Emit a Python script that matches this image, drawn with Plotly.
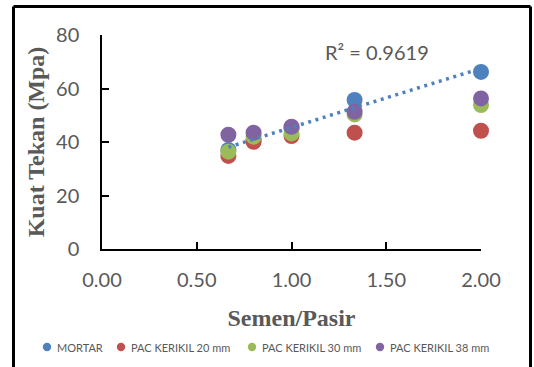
import numpy as np
import plotly.graph_objects as go

# ---- data ----
semen_pasir = [0.667, 0.8, 1.0, 1.333, 2.0]
mortar = [37.0, 41.0, 45.0, 55.7, 66.2]
kerikil_20 = [34.8, 40.1, 42.2, 43.5, 44.2]
kerikil_30 = [36.4, 42.0, 43.2, 50.3, 53.8]
kerikil_38 = [42.7, 43.5, 45.7, 51.3, 56.3]
series_names = ["MORTAR", "PAC KERIKIL 20 mm", "PAC KERIKIL 30 mm", "PAC KERIKIL 38 mm"]
series_colors = ["#4F81BD", "#C0504D", "#9BBB59", "#8064A2"]
r2_label = "R² = 0.9619"
x_ticks = [0.0, 0.5, 1.0, 1.5, 2.0]
y_ticks = [0, 20, 40, 60, 80]

TICK_FONT = dict(family="Lato", size=20, color="#595959")
TITLE_FONT = dict(family="Liberation Serif", size=24, color="#595959")

fig = go.Figure()
for name, vals, col in zip(series_names, [mortar, kerikil_20, kerikil_30, kerikil_38], series_colors):
    fig.add_trace(go.Scatter(
        x=semen_pasir, y=vals, mode="markers", name=name,
        marker=dict(size=16, color=col, line=dict(width=0)),
        cliponaxis=False, showlegend=False,
    ))

# linear trendline for MORTAR
slope, intercept = np.polyfit(semen_pasir, mortar, 1)
tx = [min(semen_pasir), max(semen_pasir)]
ty = [slope * v + intercept for v in tx]
fig.add_trace(go.Scatter(
    x=tx, y=ty, mode="lines", showlegend=False, hoverinfo="skip",
    line=dict(color="#4F81BD", width=3.5, dash="3px,4.6px"),
    cliponaxis=False,
))

fig.add_annotation(x=1.45, y=73.6, xref="x", yref="y", text=r2_label, showarrow=False,
                   font=dict(family="Lato", size=20, color="#595959"), xanchor="center", yanchor="middle")

axis_common = dict(
    showline=True, linecolor="black", linewidth=1.5, mirror=False,
    ticks="inside", ticklen=7, tickwidth=1.5, tickcolor="black",
    showgrid=False, zeroline=False, tickfont=TICK_FONT, automargin=False,
)
fig.update_xaxes(range=[0, 2], tickvals=x_ticks, tickformat=".2f",
                 title=dict(text="<b>Semen/Pasir</b>", font=TITLE_FONT, standoff=19),
                 ticklabelstandoff=12, **axis_common)
fig.update_yaxes(range=[0, 80], tickvals=y_ticks,
                 title=dict(text="<b>Kuat Tekan (Mpa)</b>", font=TITLE_FONT, standoff=5),
                 ticklabelstandoff=17, **axis_common)

# pixel -> paper helpers
L, R, T, B = 102, 481, 35, 249
def px2paper_x(p):
    return (p - L) / (R - L)
def px2paper_y(p):
    return (B - p) / (B - T)

# chart frame (left, top, right edges)
frame_l, frame_r, frame_t, frame_b = 13.5, 530.5, 6.5, 380
for (xa, ya, xb, yb) in [(frame_l, frame_t, frame_l, frame_b),
                         (frame_l, frame_t, frame_r, frame_t),
                         (frame_r, frame_t, frame_r, frame_b)]:
    fig.add_shape(type="line", xref="paper", yref="paper",
                  x0=px2paper_x(xa), y0=px2paper_y(ya), x1=px2paper_x(xb), y1=px2paper_y(yb),
                  line=dict(color="black", width=3), layer="above")

# legend (drawn as a row under the axis title)
legend_marker_px = [47, 121, 252, 380]
legend_y_px = 347
for name, col, mx in zip(series_names, series_colors, legend_marker_px):
    fig.add_shape(type="circle", xref="paper", yref="paper",
                  x0=px2paper_x(mx - 4.2), x1=px2paper_x(mx + 4.2),
                  y0=px2paper_y(legend_y_px + 4.2), y1=px2paper_y(legend_y_px - 4.2),
                  fillcolor=col, line=dict(width=0), layer="above")
    fig.add_annotation(xref="paper", yref="paper", x=px2paper_x(mx + 8), y=px2paper_y(legend_y_px),
                       text=name, showarrow=False, xanchor="left", yanchor="middle",
                       font=dict(family="Lato", size=11, color="#595959"))

fig.update_layout(
    width=534, height=367,
    margin=dict(l=L, r=534 - R, t=T, b=367 - B, autoexpand=False),
    paper_bgcolor="white", plot_bgcolor="white",
    showlegend=False,
)
fig.write_html("out.html", config={"displayModeBar": False},
               post_script="document.body.style.margin='0';")
